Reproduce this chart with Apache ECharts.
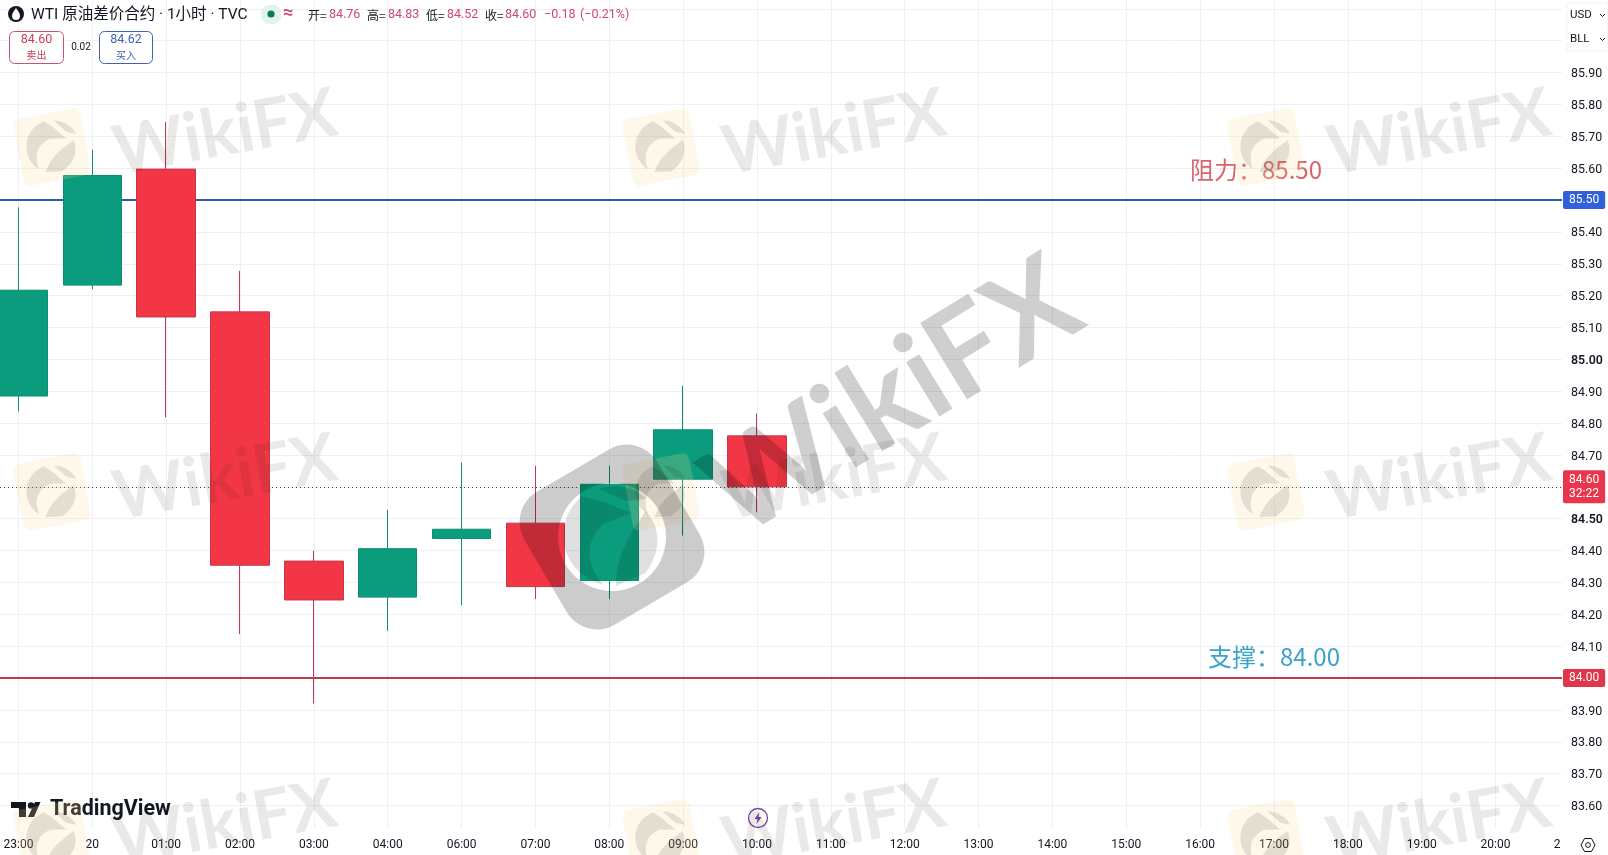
<!DOCTYPE html>
<html><head><meta charset="utf-8">
<style>html,body{margin:0;padding:0;background:#fff}#c{width:1608px;height:855px}</style>
<script src="https://cdn.jsdelivr.net/npm/echarts@6/dist/echarts.min.js"></script>
</head><body><div id="c"></div>
<script>
const xLabels = ['23:00','20','01:00','02:00','03:00','04:00','06:00','07:00','08:00','09:00','10:00','11:00','12:00','13:00','14:00','15:00','16:00','17:00','18:00','19:00','20:00'];
const slots  = [0,1,2,3,4,5,6,7,8,9,10];
const opens  = [84.885,85.233,85.597,85.149,84.367,84.254,84.438,84.486,84.306,84.624,84.76];
const closes = [85.217,85.577,85.133,84.354,84.245,84.406,84.467,84.287,84.608,84.779,84.60];
const lows   = [84.837,85.22,84.818,84.138,83.92,84.148,84.229,84.248,84.248,84.447,84.52];
const highs  = [85.477,85.658,85.745,85.278,84.399,84.528,84.676,84.666,84.666,84.917,84.83];
const resistance = 85.50, support = 84.00, lastPrice = 84.60;
const hiddenTicks = ['86.10','86.00','85.50','84.00','83.50'];
const strongTicks = ['85.00','84.50'];

const FONT = 'Roboto, "Noto Sans CJK SC", sans-serif';
const CJK = '"Noto Sans CJK SC", sans-serif';
const INK = '#131722', VAL = '#cf4a6a';

echarts.graphic.registerShape('wmEagle', echarts.graphic.extendPath('M-5,-48 A48,48 0 0 0 -30,35 C-35,10 -25,-10 0,-15 L28,-10 L18,-22 C10,-35 0,-42 -5,-48 Z M-20,42 C-5,15 20,5 40,-5 C45,15 35,35 10,46 Z M12,-46 C30,-42 42,-30 47,-15 L30,-22 Z', {}));
echarts.graphic.registerShape('wmRing', echarts.graphic.extendPath('M-42,-77 L42,-77 A35,35 0 0 1 77,-42 L77,42 A35,35 0 0 1 42,77 L-42,77 A35,35 0 0 1 -77,42 L-77,-42 A35,35 0 0 1 -42,-77 Z M54,0 A54,54 0 1 0 -54,0 A54,54 0 1 0 54,0 Z', {}));
echarts.graphic.registerShape('wtiDrop', echarts.graphic.extendPath('M16,8 C19,12 20,14 20,16 A4,4 0 0 1 12,16 C12,14 13,12 16,8 Z', {}));

function txt(text, x, y, fill, size, extra) {
  const e = extra || {};
  return {type:'text', z: e.z || 50, style:{text, x, y, fill, font:(e.weight||'normal')+' '+size+'px '+(e.family||FONT),
    align:e.align||'left', verticalAlign:'middle', opacity:e.opacity==null?1:e.opacity}};
}

function tile(lx, ly) {
  return [
    {type:'group', x:lx, y:ly, rotation:0.19, z:90, children:[
      {type:'rect', z:90, shape:{x:-34,y:-34,width:68,height:68,r:7}, style:{fill:'rgba(250,222,150,0.2)'}},
      {type:'wmEagle', z:91, scaleX:0.56, scaleY:0.56, style:{fill:'rgba(0,0,0,0.1)'}}
    ]},
    {type:'text', z:91, x:lx+173, y:ly-14, rotation:0.18,
      style:{text:'WikiFX', x:0, y:0, align:'center', verticalAlign:'middle', fill:'rgba(60,30,30,0.1)', font:'bold 68px Lato, "Open Sans", sans-serif'}}
  ];
}
const tiles = [];
[147,492,838].forEach(function(ry){ [52,661,1266].forEach(function(cx){ tile(cx,ry).forEach(function(t){tiles.push(t);}); }); });

const graphics = [
  {type:'rect', z:1, shape:{x:0,y:829,width:1562,height:9}, style:{fill:'#fff'}},
  {type:'circle', z:50, shape:{cx:16,cy:14,r:8}, style:{fill:'#131722'}},
  {type:'wtiDrop', z:51, style:{fill:'#fff'}},
  txt('WTI 原油差价合约 · 1小时 · TVC',31,15,INK,15.5,{}),
  {type:'rect', z:50, shape:{x:261,y:5,width:20,height:19,r:8}, style:{fill:'#e3f3ee'}},
  {type:'circle', z:51, shape:{cx:271,cy:14,r:3.6}, style:{fill:'#0b7a5e'}},
  txt('≈',283,13,VAL,18,{weight:'bold'}),
  txt('开=',308,15,INK,12,{family:CJK}), txt('84.76',329,15,VAL,12.5),
  txt('高=',367,15,INK,12,{family:CJK}), txt('84.83',388,15,VAL,12.5),
  txt('低=',426,15,INK,12,{family:CJK}), txt('84.52',447,15,VAL,12.5),
  txt('收=',485,15,INK,12,{family:CJK}), txt('84.60',505,15,VAL,12.5),
  txt('−0.18',544,15,VAL,12.5), txt('(−0.21%)',580,15,VAL,12.5),
  {type:'rect', z:50, shape:{x:9.5,y:31.5,width:54,height:32,r:5}, style:{fill:'#fff',stroke:'#c8566a',lineWidth:1}},
  txt('84.60',36.5,40,'#c8405a',12.5,{align:'center'}),
  txt('卖出',36.5,55,'#c8405a',10,{align:'center',family:CJK}),
  txt('0.02',81,47,INK,10,{align:'center'}),
  {type:'rect', z:50, shape:{x:99.5,y:31.5,width:53,height:32,r:5}, style:{fill:'#fff',stroke:'#3f62b0',lineWidth:1}},
  txt('84.62',126,40,'#3f62b0',12.5,{align:'center'}),
  txt('买入',126,55,'#3f62b0',10,{align:'center',family:CJK}),
  {type:'rect', z:50, shape:{x:1567,y:3,width:41,height:48,r:2}, style:{fill:'#fff',stroke:'#f0f1f4',lineWidth:1}},
  txt('USD',1570,15,INK,11.5,{}), txt('BLL',1570,39,INK,11.5,{}),
  {type:'polyline', z:51, shape:{points:[[1600,14],[1602.5,16.5],[1605,14]]}, style:{stroke:INK,fill:null,lineWidth:1}},
  {type:'polyline', z:51, shape:{points:[[1600,38],[1602.5,40.5],[1605,38]]}, style:{stroke:INK,fill:null,lineWidth:1}},
  txt('阻力：85.50',1190,170,'#d9636b',24,{family:CJK,z:60}),
  txt('支撑：84.00',1208,657,'#3aa3c8',24,{family:CJK,z:60}),
  {type:'polygon', z:50, shape:{points:[[11,802],[26,802],[26,817],[19,817],[19,808],[11,808]]}, style:{fill:'#131722'}},
  {type:'circle', z:50, shape:{cx:31,cy:805.5,r:3.2}, style:{fill:'#131722'}},
  {type:'polygon', z:50, shape:{points:[[35,802],[40.5,802],[34,817],[28,817]]}, style:{fill:'#131722'}},
  txt('TradingView',50,810,'#131722',21.5,{weight:'bold'}),
  {type:'circle', z:50, shape:{cx:758,cy:818,r:9.5}, style:{fill:'#fff',stroke:'#7b3fa0',lineWidth:1.3}},
  {type:'polygon', z:51, shape:{points:[[759.5,812],[754.5,819],[757.5,819],[756.5,824],[761.5,817],[758.5,817]]}, style:{fill:'#7b3fa0'}},
  txt('2',1557,845,INK,12,{align:'center'}),
  {type:'polygon', z:50, shape:{points:[[1581,845],[1584.5,838.5],[1591.5,838.5],[1595,845],[1591.5,851.5],[1584.5,851.5]]}, style:{fill:'#fff',stroke:INK,lineWidth:1}},
  {type:'circle', z:51, shape:{cx:1588,cy:845,r:2.4}, style:{fill:'#fff',stroke:INK,lineWidth:1}},
  {type:'group', x:612, y:537, rotation:0.53, z:95, children:[
    {type:'wmRing', z:95, style:{fill:'rgba(0,0,0,0.2)'}},
    {type:'wmEagle', z:95, scaleX:1.05, scaleY:1.05, style:{fill:'rgba(0,0,0,0.12)'}}
  ]},
  {type:'text', z:95, x:893, y:398, rotation:0.55,
    style:{text:'WikiFX', x:0, y:0, align:'center', verticalAlign:'middle', fill:'rgba(0,0,0,0.19)', font:'bold 124px Lato, "Open Sans", sans-serif'}}
].concat(tiles);

function badge(value, lineColor, boxColor, text) {
  return {yAxis:value, lineStyle:{color:lineColor,width:2,type:'solid'},
    label:{show:true, position:'end', distance:1, formatter:text, color:'#fff', backgroundColor:boxColor,
      padding:[3,6,2,6], borderRadius:2, fontSize:12, fontFamily:FONT, lineHeight:13}};
}

const tickValues = xLabels.map(function(_,i){ return i; });
const option = {
  animation:false,
  backgroundColor:'#fff',
  grid:{left:0, right:46, top:0, bottom:17.6, containLabel:false},
  xAxis:{type:'value', min:-0.25, max:20.9,
    axisLine:{show:false}, axisTick:{show:false, customValues:tickValues},
    splitLine:{show:true, lineStyle:{color:'#eff0f4',width:1}},
    axisLabel:{show:true, margin:2, color:INK, fontSize:12, fontFamily:FONT, customValues:tickValues,
      formatter:function(v){ return xLabels[v] || ''; }}},
  yAxis:{type:'value', position:'right', min:83.5, max:86.1276, interval:0.1, scale:true,
    axisLine:{show:false}, axisTick:{show:false},
    splitLine:{show:true, showMinLine:false, showMaxLine:false, lineStyle:{color:'#eff0f4',width:1}},
    axisLabel:{show:true, inside:false, margin:9, color:INK, fontSize:12.4, fontFamily:FONT, showMinLabel:false, showMaxLabel:false,
      padding:[3,0,0,0],
      rich:{b:{fontWeight:600, color:INK, fontSize:12.4, fontFamily:FONT}},
      formatter:function(v){
        const s = v.toFixed(2);
        if (hiddenTicks.indexOf(s) >= 0) return '';
        return strongTicks.indexOf(s) >= 0 ? '{b|'+s+'}' : s;
      }}},
  graphic:{elements:graphics},
  series:[{
    type:'candlestick', z:3,
    barWidth:59,
    encode:{x:0, y:[1,2,3,4]},
    data:slots.map(function(s,i){ return [s,opens[i],closes[i],lows[i],highs[i]]; }),
    itemStyle:{color:'#0a9c7c', color0:'#f23645', borderColor:'#0a8f72', borderColor0:'#c23a4c', borderWidth:1},
    markLine:{silent:true, z:1, symbol:'none', animation:false,
      data:[
        badge(resistance,'#2f5ba8','#2f62d8','85.50'),
        badge(support,'#bb3c4c','#e0364a','84.00'),
        {yAxis:lastPrice, lineStyle:{color:'#444',width:1,type:[1,3]},
          label:{show:true, position:'end', distance:1, formatter:'84.60\n32:22', color:'#fff', backgroundColor:'#e8364d',
            padding:[3,6,2,6], borderRadius:2, fontSize:12, fontFamily:FONT, lineHeight:14}}
      ]}
  }]
};
const chart = echarts.init(document.getElementById('c'), null, {renderer:'canvas'});
chart.setOption(option);
</script></body></html>
